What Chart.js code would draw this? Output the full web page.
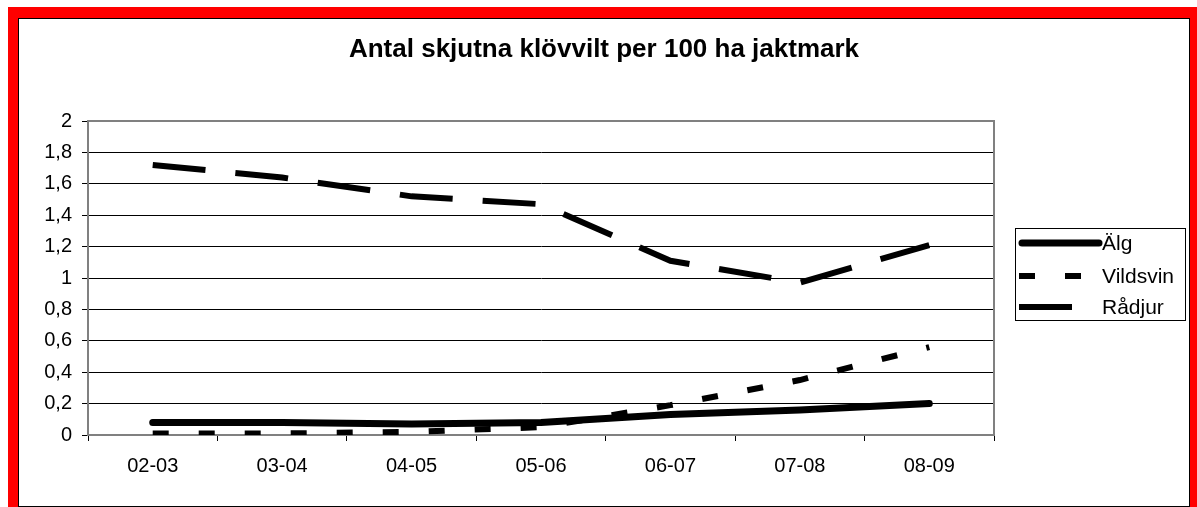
<!DOCTYPE html>
<html>
<head>
<meta charset="utf-8">
<script src="https://cdn.jsdelivr.net/npm/chart.js@4.4.1/dist/chart.umd.min.js"></script>
<style>
  html, body { margin: 0; padding: 0; background: #fff; width: 1197px; height: 507px; overflow: hidden; }
  #red { position: absolute; left: 8px; top: 7px; width: 1189px; height: 500px; background: #ff0000; }
  #inner { position: absolute; left: 18px; top: 18px; width: 1170px; height: 487px; background: #fff; border: 1px solid #000; }
  #wrap { position: absolute; left: 0; top: 0; width: 1197px; height: 507px; }
</style>
</head>
<body>
<div id="red"></div>
<div id="inner"></div>
<div id="wrap"><canvas id="c" width="1197" height="507"></canvas></div>
<script>
const chartTitle = 'Antal skjutna klövvilt per 100 ha jaktmark';
const categories = ['02-03', '03-04', '04-05', '05-06', '06-07', '07-08', '08-09'];
const seriesNames = ['Älg', 'Vildsvin', 'Rådjur'];
const algValues = [0.08, 0.08, 0.07, 0.08, 0.13, 0.16, 0.20];
const vildsvinValues = [0.01, 0.01, 0.02, 0.05, 0.19, 0.35, 0.56];
const radjurValues = [1.72, 1.64, 1.52, 1.47, 1.11, 0.97, 1.21];
const yTickLabels = ['0', '0,2', '0,4', '0,6', '0,8', '1', '1,2', '1,4', '1,6', '1,8', '2'];

const FONT = 'Arial, "Liberation Sans", sans-serif';

const framePlugin = {
  id: 'frame',
  beforeDatasetsDraw(chart) {
    const { ctx, chartArea: a } = chart;
    ctx.save();
    ctx.strokeStyle = '#808080';
    ctx.lineWidth = 2;
    ctx.strokeRect(a.left, a.top, a.right - a.left, a.bottom - a.top);
    ctx.restore();
  },
  afterDraw(chart) {
    const { ctx } = chart;
    ctx.save();
    ctx.fillStyle = '#000';
    ctx.font = 'bold 26px ' + FONT;
    ctx.textAlign = 'center';
    ctx.textBaseline = 'middle';
    ctx.fillText(chartTitle, 604, 50);
    ctx.strokeStyle = '#000';
    ctx.lineWidth = 1;
    ctx.strokeRect(1015.5, 228.5, 170, 92);
    const rows = [243, 276, 307];
    chart.data.datasets.forEach((ds, i) => {
      const y = rows[i];
      ctx.save();
      ctx.strokeStyle = '#000';
      ctx.lineWidth = ds.borderWidth;
      ctx.lineCap = ds.borderCapStyle || 'butt';
      ctx.setLineDash(ds.borderDash || []);
      ctx.beginPath();
      if (i === 0) { ctx.moveTo(1022, y); ctx.lineTo(1099, y); }
      else if (i === 1) { ctx.moveTo(1019, y); ctx.lineTo(1082, y); }
      else { ctx.moveTo(1019, y); ctx.lineTo(1073, y); }
      ctx.stroke();
      ctx.restore();
      ctx.fillStyle = '#000';
      ctx.font = '21px ' + FONT;
      ctx.textAlign = 'left';
      ctx.textBaseline = 'middle';
      ctx.fillText(ds.label, 1102, y + 1);
    });
    ctx.restore();
  }
};

new Chart(document.getElementById('c'), {
  type: 'line',
  data: {
    labels: categories,
    datasets: [
      { label: seriesNames[0], data: algValues, borderColor: '#000', borderWidth: 7, borderCapStyle: 'round', borderJoinStyle: 'round', pointRadius: 0, fill: false, tension: 0 },
      { label: seriesNames[1], data: vildsvinValues, borderColor: '#000', borderWidth: 6, borderDash: [16, 30], borderCapStyle: 'butt', pointRadius: 0, fill: false, tension: 0 },
      { label: seriesNames[2], data: radjurValues, borderColor: '#000', borderWidth: 6, borderDash: [53, 30], borderCapStyle: 'butt', pointRadius: 0, fill: false, tension: 0 }
    ]
  },
  options: {
    responsive: false,
    animation: false,
    devicePixelRatio: 1,
    layout: { padding: { left: 0, top: 121, right: 203, bottom: 0 } },
    plugins: { legend: { display: false }, title: { display: false }, tooltip: { enabled: false } },
    scales: {
      x: {
        offset: true,
        grid: { offset: true, drawOnChartArea: false, drawTicks: true, tickLength: 6, tickColor: '#000', lineWidth: 1 },
        border: { display: true, color: '#000', width: 1 },
        ticks: { color: '#000', font: { family: FONT, size: 20 }, padding: 13, maxRotation: 0 },
        afterFit(scale) { scale.height = 72; }
      },
      y: {
        min: 0, max: 2,
        grid: { color: '#000', lineWidth: 1, tickLength: 6, tickColor: '#000', drawTicks: true },
        border: { display: true, color: '#808080', width: 2 },
        ticks: {
          stepSize: 0.2, color: '#000', font: { family: FONT, size: 20 }, padding: 10,
          callback: (v, i) => yTickLabels[i]
        },
        afterFit(scale) { scale.width = 88; }
      }
    }
  },
  plugins: [framePlugin]
});
</script>
</body>
</html>
